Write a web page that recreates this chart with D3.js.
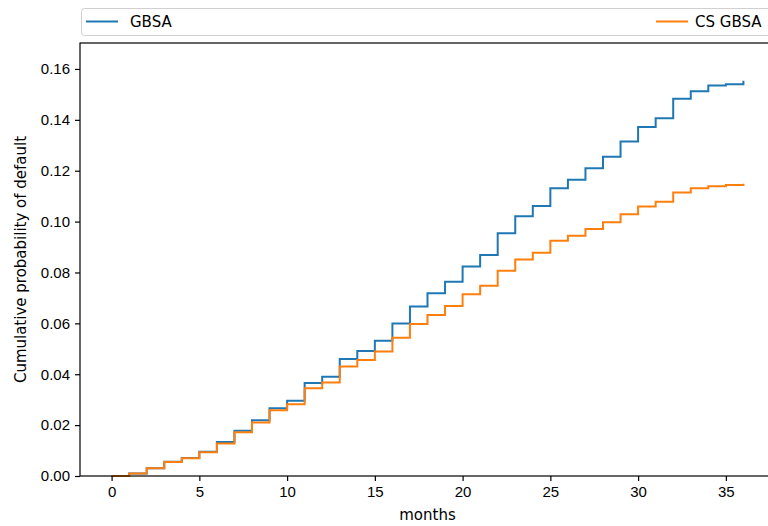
<!DOCTYPE html>
<html>
<head>
<meta charset="utf-8">
<script src="https://cdn.jsdelivr.net/npm/d3@7"></script>
<style>
  body { margin: 0; background: #fff; }
  svg { display: block; font-family: "DejaVu Sans", sans-serif; }
  .chart__axis text { font-size: 15px; fill: #000; }
  .chart__axis path, .chart__axis line { stroke: #000; stroke-width: 1.2; }
  .chart__box { fill: none; stroke: #000; stroke-width: 1.2; }
  .chart__line { fill: none; stroke-width: 2; }
  .chart__label { font-size: 15px; fill: #000; }
  .chart__legend-box { fill: #fff; stroke: #d0d0d0; stroke-width: 1; }
</style>
</head>
<body>
<svg id="chart" width="768" height="526"></svg>
<script>
// data
var months = d3.range(0, 37)
var gbsa = [0, 0.001, 0.003, 0.0056, 0.0071, 0.0095, 0.0134, 0.0178, 0.0219, 0.0266,
  0.0296, 0.0366, 0.039, 0.046, 0.0491, 0.0532, 0.0599, 0.0666, 0.0718, 0.0764,
  0.0823, 0.0869, 0.0954, 0.1021, 0.1061, 0.1131, 0.1164, 0.121, 0.1255, 0.1315,
  0.1372, 0.1406, 0.1483, 0.1512, 0.1535, 0.154, 0.1554]
var csGbsa = [0, 0.001, 0.003, 0.0055, 0.007, 0.0093, 0.0128, 0.0172, 0.021, 0.0258,
  0.0282, 0.0345, 0.0368, 0.043, 0.0456, 0.0489, 0.0543, 0.0597, 0.0633, 0.0668,
  0.0714, 0.0748, 0.0807, 0.0851, 0.0878, 0.0925, 0.0944, 0.0971, 0.0997, 0.1029,
  0.1059, 0.1078, 0.1114, 0.1131, 0.1139, 0.1144, 0.1149]
var seriesNames = ["GBSA", "CS GBSA"]
var seriesColors = ["#1f77b4", "#ff7f0e"]
var xTicks = [0, 5, 10, 15, 20, 25, 30, 35]
var yTicks = [0, 0.02, 0.04, 0.06, 0.08, 0.10, 0.12, 0.14, 0.16]

var svg = d3.select("#chart")
var margin = { top: 43, left: 80, bottom: 476, right: 775 }

var x = d3.scaleLinear().domain([-1.8, 37.8]).range([margin.left, margin.right])
var y = d3.scaleLinear().domain([0, 0.1702]).range([margin.bottom, margin.top])

var items = [gbsa, csGbsa].map(function (vals, i) {
  return {
    name: seriesNames[i],
    color: seriesColors[i],
    data: months.map(function (m, j) { return { x: m, y: vals[j] } })
  }
})

var line = d3.line()
  .curve(d3.curveStepAfter)
  .x(function (d) { return x(d.x) })
  .y(function (d) { return y(d.y) })

// lines
svg.append("g").attr("class", "chart__lines")
  .selectAll("path")
  .data(items).enter()
  .append("path")
  .attr("class", "chart__line")
  .attr("stroke", function (d) { return d.color })
  .attr("d", function (d) { return line(d.data) })

// frame
svg.append("rect")
  .attr("class", "chart__box")
  .attr("x", margin.left)
  .attr("y", margin.top)
  .attr("width", margin.right - margin.left)
  .attr("height", margin.bottom - margin.top)

// axes
svg.append("g")
  .attr("class", "chart__axis chart__axis--y")
  .attr("transform", "translate(" + margin.left + ",0)")
  .call(d3.axisLeft(y).tickValues(yTicks).tickFormat(d3.format(".2f"))
    .tickSize(5).tickSizeOuter(0).tickPadding(5))

svg.append("g")
  .attr("class", "chart__axis chart__axis--x")
  .attr("transform", "translate(0," + margin.bottom + ")")
  .call(d3.axisBottom(x).tickValues(xTicks).tickFormat(d3.format("d"))
    .tickSize(5).tickSizeOuter(0).tickPadding(5))

svg.selectAll(".chart__axis .domain").remove()

// axis labels
svg.append("text")
  .attr("class", "chart__label")
  .attr("x", (margin.left + margin.right) / 2)
  .attr("y", 520)
  .attr("text-anchor", "middle")
  .text("months")

svg.append("text")
  .attr("class", "chart__label")
  .attr("transform", "translate(26," + (margin.top + margin.bottom) / 2 + ") rotate(-90)")
  .attr("text-anchor", "middle")
  .text("Cumulative probability of default")

// legend, expanded across the top
var legend = svg.append("g").attr("class", "chart__legend")
legend.append("rect")
  .attr("class", "chart__legend-box")
  .attr("x", 81.5).attr("y", 8.5)
  .attr("width", 700).attr("height", 27)
  .attr("rx", 3)

var legendPos = [86, 656]
var entry = legend.selectAll(".chart__legend-item")
  .data(items).enter()
  .append("g")
  .attr("class", "chart__legend-item")
  .attr("transform", function (d, i) { return "translate(" + legendPos[i] + ",21.5)" })

entry.append("line")
  .attr("x1", 0).attr("x2", 32)
  .attr("stroke", function (d) { return d.color })
  .attr("stroke-width", 2)

entry.append("text")
  .attr("class", "chart__label")
  .attr("x", function (d, i) { return i === 0 ? 44 : 39 })
  .attr("dy", "0.35em")
  .text(function (d) { return d.name })
</script>
</body>
</html>
